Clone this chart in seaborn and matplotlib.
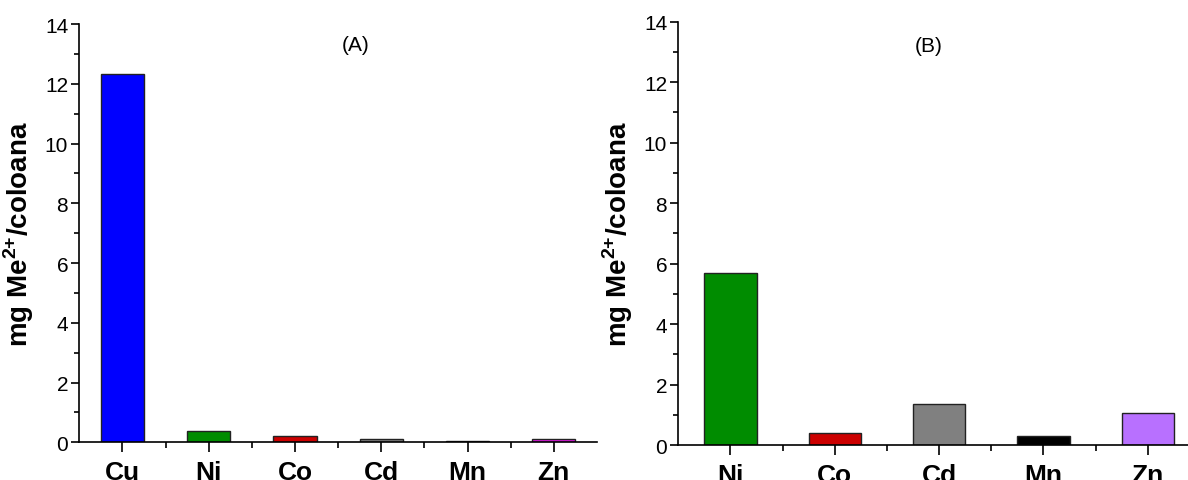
import matplotlib
matplotlib.use("Agg")
import matplotlib.pyplot as plt
import seaborn as sns
import pandas as pd
from matplotlib.ticker import MultipleLocator, FixedLocator

# Data
metals_a = ["Cu", "Ni", "Co", "Cd", "Mn", "Zn"]
values_a = [12.33, 0.37, 0.21, 0.12, 0.05, 0.10]
colors_a = ["#0000FF", "#008C00", "#CC0000", "#808080", "#000000", "#E619E6"]

metals_b = ["Ni", "Co", "Cd", "Mn", "Zn"]
values_b = [5.70, 0.40, 1.36, 0.31, 1.07]
colors_b = ["#008C00", "#CC0000", "#808080", "#000000", "#B870FF"]

panel_labels = ["(A)", "(B)"]
ylabel_text = r"mg Me$^{\mathbf{2{+}}}$/coloana"

sns.set_theme(style="ticks")
plt.rcParams["font.family"] = ["Liberation Sans", "DejaVu Sans"]
plt.rcParams["mathtext.fontset"] = "custom"
plt.rcParams["mathtext.rm"] = "Liberation Sans"
plt.rcParams["mathtext.bf"] = "Liberation Sans:bold"
for k in ["text.color", "axes.labelcolor", "xtick.color", "ytick.color", "axes.edgecolor"]:
    plt.rcParams[k] = "black"

fig = plt.figure(figsize=(11.88, 4.81), dpi=100)
ax_a = fig.add_axes([79.3 / 1188, 1 - 443.3 / 481, (597 - 79.3) / 1188, (443.3 - 25) / 481])
ax_b = fig.add_axes([678.3 / 1188, 1 - 446 / 481, (1200 - 678.3) / 1188, (446 - 22.7) / 481])

def draw(ax, metals, values, colors, label, label_xy):
    df = pd.DataFrame({"metal": metals, "value": values})
    sns.barplot(data=df, x="metal", y="value", hue="metal", palette=colors,
                order=metals, hue_order=metals, legend=False, width=0.5,
                edgecolor="#222222", linewidth=1.0, saturation=1, ax=ax)
    ax.set_xlim(-0.5, len(metals) - 0.5)
    ax.set_ylim(0, 14)
    ax.yaxis.set_major_locator(MultipleLocator(2))
    ax.yaxis.set_minor_locator(MultipleLocator(1))
    ax.xaxis.set_minor_locator(FixedLocator([i + 0.5 for i in range(len(metals) - 1)]))
    for s in ["top", "right"]:
        ax.spines[s].set_visible(False)
    for s in ["left", "bottom"]:
        ax.spines[s].set_linewidth(1.2)
        ax.spines[s].set_color("black")
    ax.tick_params(axis="y", which="major", length=6, width=1.2, labelsize=15, direction="out", pad=2)
    ax.tick_params(axis="y", which="minor", length=3.5, width=1.2, direction="out")
    ax.tick_params(axis="x", which="major", length=7, width=1.2, direction="out", pad=6)
    ax.tick_params(axis="x", which="minor", length=4, width=1.2, direction="out")
    for t in ax.get_xticklabels():
        t.set_fontweight("bold")
        t.set_fontsize(19)
    ax.set_xlabel("")
    ax.set_ylabel(ylabel_text, fontsize=20, fontweight="bold", labelpad=6)
    ax.text(label_xy[0], label_xy[1], label, fontsize=15, ha="center", va="center")

draw(ax_a, metals_a, values_a, colors_a, panel_labels[0], (2.70, 13.3))
draw(ax_b, metals_b, values_b, colors_b, panel_labels[1], (1.90, 13.2))

fig.savefig("out.png", dpi=100)
